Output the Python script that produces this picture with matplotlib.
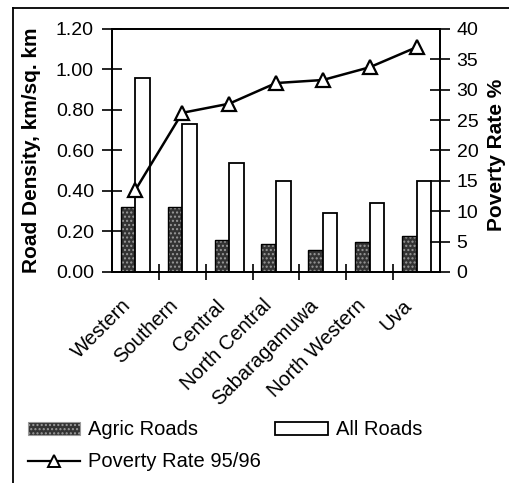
"""
Road density vs poverty rate by province
"""
import numpy as np
import matplotlib
matplotlib.use('Agg')
import matplotlib.pyplot as plt
import matplotlib.transforms as mtransforms
from matplotlib.lines import Line2D

plt.rcParams['font.family'] = ['Liberation Sans', 'DejaVu Sans']

provinces = ['Western', 'Southern', 'Central', 'North Central',
             'Sabaragamuwa', 'North Western', 'Uva']
agric_roads = [0.32, 0.32, 0.16, 0.14, 0.11, 0.15, 0.18]
all_roads = [0.96, 0.73, 0.54, 0.45, 0.29, 0.34, 0.45]
poverty_rate = [13.5, 26.2, 27.7, 31.1, 31.6, 33.7, 37.0]

left_ticks = [0.0, 0.2, 0.4, 0.6, 0.8, 1.0, 1.2]
right_ticks = [0, 5, 10, 15, 20, 25, 30, 35, 40]

fig = plt.figure(figsize=(5.10, 4.83), dpi=100)
ax = fig.add_axes([0.2196, 0.4369, 0.6431, 0.5031])
ax2 = ax.twinx()

x = np.arange(len(provinces))
w = 0.31

# agric roads: dark stippled bars
ax.bar(x - w / 2, agric_roads, w, color='#333333', edgecolor='#9a9a9a',
       hatch='....', linewidth=0, zorder=2)
ax.bar(x - w / 2, agric_roads, w, facecolor='none', edgecolor='black',
       linewidth=1.0, zorder=3)
ax.bar(x + w / 2, all_roads, w, color='white', edgecolor='black',
       linewidth=1.3, zorder=3)

ax2.plot(x, poverty_rate, color='black', linewidth=1.8, marker='^',
         markersize=10, markerfacecolor='white', markeredgecolor='black',
         markeredgewidth=1.6, zorder=4)

ax.set_xlim(-0.5, len(provinces) - 0.5)
ax.set_ylim(0, 1.2)
ax2.set_ylim(0, 40)

ax.set_yticks(left_ticks)
ax.set_yticklabels(['{:.2f}'.format(v) for v in left_ticks], fontsize=14)
ax2.set_yticks(right_ticks)
ax2.set_yticklabels([str(v) for v in right_ticks], fontsize=14)

# ticks between categories, names under the bars
ax.set_xticks(np.arange(len(provinces) - 1) + 0.5)
ax.set_xticklabels([])
ax.tick_params(axis='x', which='major', direction='inout', length=12, width=1.2)
ax.tick_params(axis='y', direction='inout', length=14, width=1.2, pad=6)
ax2.tick_params(axis='y', direction='inout', length=14, width=1.2, pad=5)

label_trans = ax.get_xaxis_transform() + mtransforms.ScaledTranslation(
    -0.14, -0.24, fig.dpi_scale_trans)
for xi, name in zip(x, provinces):
    ax.text(xi, 0, name, transform=label_trans, rotation=45, ha='right',
            va='top', rotation_mode='anchor', fontsize=14.5)

for a in (ax, ax2):
    for s in a.spines.values():
        s.set_linewidth(1.3)

ax.set_ylabel('Road Density, km/sq. km', fontsize=15, fontweight='bold',
              ha='center', va='center')
ax.yaxis.set_label_coords(-0.244, 0.5)
ax2.set_ylabel('Poverty Rate %', fontsize=15, fontweight='bold', rotation=90,
               ha='center', va='center')
ax2.yaxis.set_label_coords(1.171, 0.48)

# legend below the plot
h_agric = plt.Rectangle((0, 0), 1, 1, facecolor='#333333', edgecolor='#9a9a9a',
                        hatch='....', linewidth=0.8)
h_all = plt.Rectangle((0, 0), 1, 1, facecolor='white', edgecolor='black',
                      linewidth=1.3)
h_pov = Line2D([], [], color='black', linewidth=1.6, marker='^', markersize=8,
               markerfacecolor='white', markeredgecolor='black',
               markeredgewidth=1.4)
fig.legend([h_agric, h_pov, h_all],
           ['Agric Roads', 'Poverty Rate 95/96', 'All Roads'],
           ncol=2, loc='upper left', bbox_to_anchor=(0.055, 0.130),
           frameon=False, fontsize=14.5, handlelength=2.6, handleheight=0.6,
           handletextpad=0.4, columnspacing=0.7, labelspacing=0.65,
           borderaxespad=0, borderpad=0)

# outer frame (top and left edges of the scanned chart box)
fig.add_artist(Line2D([0.026, 1.0], [0.983, 0.983], color='black',
                      linewidth=1.3, transform=fig.transFigure))
fig.add_artist(Line2D([0.026, 0.026], [0.0, 0.983], color='black',
                      linewidth=1.3, transform=fig.transFigure))

fig.savefig('out.png', dpi=100)
